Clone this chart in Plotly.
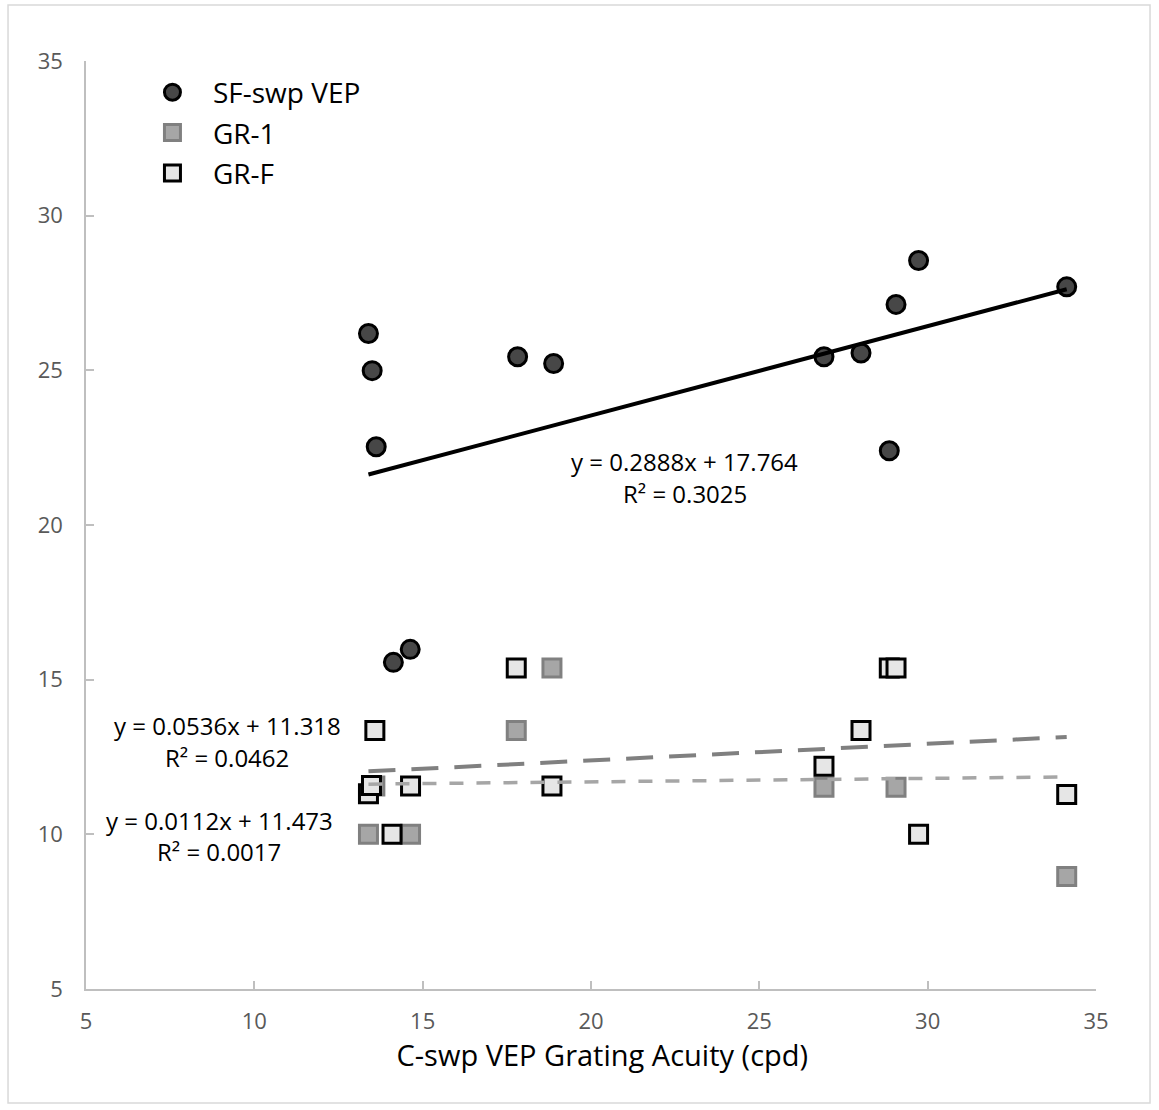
import plotly.graph_objects as go

# ---- data ----
sf_x = [13.39, 13.50, 13.62, 14.13, 14.63, 17.82, 18.89, 26.92, 28.02, 29.06, 29.73, 28.86, 34.13]
sf_y = [26.19, 24.99, 22.53, 15.56, 15.98, 25.44, 25.22, 25.44, 25.56, 27.13, 28.55, 22.40, 27.70]

gr1_x = [13.39, 13.58, 14.64, 17.78, 18.84, 26.92, 29.06, 34.13]
gr1_y = [10.00, 11.56, 10.00, 13.36, 15.38, 11.52, 11.52, 8.64]

grf_x = [13.39, 13.48, 13.58, 14.09, 14.64, 17.78, 18.84, 26.92, 28.02, 28.86, 29.06, 29.73, 34.13]
grf_y = [11.31, 11.58, 13.36, 10.00, 11.56, 15.38, 11.56, 12.20, 13.36, 15.38, 15.38, 10.00, 11.29]

# trendline coefficients (slope, intercept, R^2) as printed in the chart
sf_fit = (0.2888, 17.764, 0.3025)
grf_fit = (0.0536, 11.318, 0.0462)
gr1_fit = (0.0112, 11.473, 0.0017)

x_ticks = [5, 10, 15, 20, 25, 30, 35]
y_ticks = [5, 10, 15, 20, 25, 30, 35]

FONT = "Open Sans"

fig = go.Figure()

fig.add_trace(go.Scatter(
    x=sf_x, y=sf_y, mode="markers", name="SF-swp VEP", legendgroup="a",
    marker=dict(symbol="circle", size=18, color="#474747", line=dict(color="black", width=3)),
))
fig.add_trace(go.Scatter(
    x=gr1_x, y=gr1_y, mode="markers", name="GR-1", legendgroup="b",
    marker=dict(symbol="square", size=18, color="#a6a6a6", line=dict(color="#808080", width=3)),
))
fig.add_trace(go.Scatter(
    x=grf_x, y=grf_y, mode="markers", name="GR-F", legendgroup="c",
    marker=dict(symbol="square", size=18, color="#e6e6e6", line=dict(color="black", width=3)),
))


def fit_line(xs, fit):
    lo, hi = min(xs), max(xs)
    return [lo, hi], [fit[0] * lo + fit[1], fit[0] * hi + fit[1]]


lx, ly = fit_line(sf_x, sf_fit)
fig.add_trace(go.Scatter(x=lx, y=ly, mode="lines", showlegend=False, hoverinfo="skip",
                         line=dict(color="black", width=4)))
lx, ly = fit_line(grf_x, grf_fit)
fig.add_trace(go.Scatter(x=lx, y=ly, mode="lines", showlegend=False, hoverinfo="skip",
                         line=dict(color="#808080", width=4, dash="27px,16px")))
lx, ly = fit_line(gr1_x, gr1_fit)
fig.add_trace(go.Scatter(x=lx, y=ly, mode="lines", showlegend=False, hoverinfo="skip",
                         line=dict(color="#a6a6a6", width=3.5, dash="14px,13px")))


def eq_text(fit):
    return f"y = {fit[0]}x + {fit[1]}", f"R² = {fit[2]}"


labels = [
    (sf_fit, 22.79, 22.05, 21.03),
    (grf_fit, 9.19, 13.53, 12.50),
    (gr1_fit, 8.96, 10.46, 9.43),
]
for fit, ax, ay1, ay2 in labels:
    t1, t2 = eq_text(fit)
    for t, ay in ((t1, ay1), (t2, ay2)):
        fig.add_annotation(x=ax, y=ay, xref="x", yref="y", text=t, showarrow=False,
                           xanchor="center", yanchor="middle",
                           font=dict(family=FONT, size=24, color="black"))

axis_common = dict(
    showline=True, linecolor="#bfbfbf", linewidth=1.5, mirror=False,
    showgrid=False, zeroline=False, ticks="inside", ticklen=8, tickcolor="#bfbfbf",
    tickwidth=1.5, tickfont=dict(family=FONT, size=22, color="#595959"),
)

fig.update_xaxes(range=[5, 35], tickvals=x_ticks, ticklabelstandoff=12,
                 title=dict(text="&nbsp;&nbsp;&nbsp;C-swp VEP Grating Acuity (cpd)",
                            font=dict(family=FONT, size=29, color="black"), standoff=7),
                 **axis_common)
fig.update_yaxes(range=[5, 35], tickvals=y_ticks, ticklabelstandoff=17, **axis_common)

fig.update_layout(
    width=1159, height=1110,
    margin=dict(l=86, r=63, t=61, b=121),
    paper_bgcolor="white", plot_bgcolor="white",
    showlegend=True,
    legend=dict(x=0.0455, y=0.993, xanchor="left", yanchor="top", traceorder="grouped",
                tracegroupgap=1, font=dict(family=FONT, size=28, color="black"),
                bgcolor="rgba(0,0,0,0)", itemwidth=71),
    shapes=[dict(type="rect", xref="paper", yref="paper",
                 x0=-0.0772, x1=1.0535, y0=-0.1228, y1=1.0603,
                 line=dict(color="#d9d9d9", width=1.5), fillcolor="rgba(0,0,0,0)", layer="below")],
)

fig.write_html("out.html")
